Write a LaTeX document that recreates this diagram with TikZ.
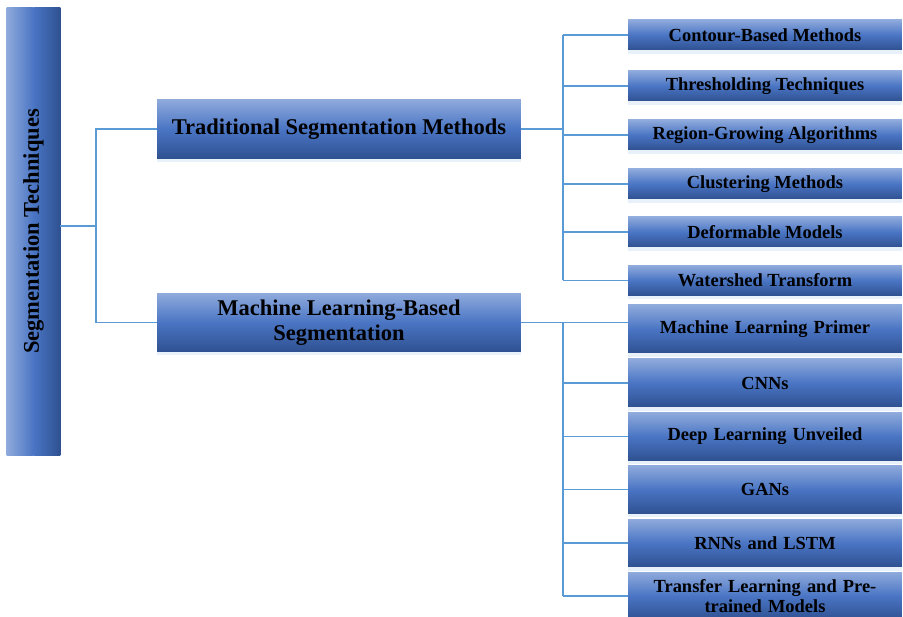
\documentclass[tikz,border=0pt]{standalone}
\usepackage{fontspec}
\setmainfont{Liberation Serif}
\usetikzlibrary{positioning, shadows}

\definecolor{boxlight}{HTML}{8FAADC}
\definecolor{boxmid}{HTML}{4A75C4}
\definecolor{boxdark}{HTML}{2F5191}
\definecolor{linkblue}{HTML}{5B9BD5}

\tikzset{
    shadowed/.style={draw=none, inner sep=0pt, align=center,
        drop shadow={shadow xshift=0pt, shadow yshift=-2pt, fill=linkblue!40, opacity=0.35}},
    box/.style={shadowed, top color=boxlight, bottom color=boxdark, middle color=boxmid},
    rootbox/.style={draw=none, inner sep=0pt, fill=boxmid,
        minimum width=1.06cm, minimum height=8.94cm},
    roottitle/.style={rotate=90, inner sep=0pt, font=\bfseries\fontsize{12.8}{14}\selectfont},
    midbox/.style={box, minimum width=7.28cm, minimum height=1.17cm,
        font=\bfseries\fontsize{12.8}{14.5}\selectfont},
    leafbox/.style={box, minimum width=5.48cm, minimum height=0.6cm,
        font=\bfseries\fontsize{10.5}{12}\selectfont},
    tallbox/.style={leafbox, minimum height=0.96cm, text width=5.2cm,
        font=\bfseries\fontsize{10.5}{11.2}\selectfont},
    link/.style={draw=linkblue, line width=0.8pt}
}

\begin{document}
\begin{tikzpicture}[x=0.02cm, y=0.02cm]
            \useasboundingbox (0,0) rectangle (903,-617);
            \clip (0,0) rectangle (903,-617);

            \node[rootbox] (root) at (33.5, -231.5) {};
            \shade[left color=boxlight, right color=boxmid] (root.south west) rectangle (root.north);
            \shade[left color=boxmid, right color=boxdark] (root.south) rectangle (root.north east);
            \node[roottitle] (roottext) at (root.center) {Segmentation Techniques};

            \node[midbox] (trad) at (339, -129) {Traditional Segmentation Methods};
            \node[midbox] (ml) at (339, -322.5) {Machine Learning-Based\\Segmentation};

            \node[leafbox] (contour) at (765, -35) {Contour-Based Methods};
            \node[leafbox] (thresh) at (765, -86) {Thresholding Techniques};
            \node[leafbox] (region) at (765, -135) {Region-Growing Algorithms};
            \node[leafbox] (cluster) at (765, -184) {Clustering Methods};
            \node[leafbox] (deform) at (765, -232) {Deformable Models};
            \node[leafbox] (water) at (765, -280.5) {Watershed Transform};

            \node[tallbox] (primer) at (765, -329) {Machine Learning Primer};
            \node[tallbox] (cnn) at (765, -383) {CNNs};
            \node[tallbox] (deep) at (765, -436.5) {Deep Learning Unveiled};
            \node[tallbox] (gan) at (765, -489.5) {GANs};
            \node[tallbox] (rnn) at (765, -543) {RNNs and LSTM};
            \node[tallbox] (transfer) at (765, -596) {Transfer Learning and Pre-\\trained Models};

            \coordinate (split) at (96, -226);
            \coordinate (tradbus) at (563, 0);
            \coordinate (mlbus) at (563, 0);

            \draw[link] (root.east |- split) -- (split);
            \draw[link] (trad.west) -| (split) |- (ml.west);

            \draw[link] (trad.east) -- (tradbus |- trad.east);
            \draw[link] (tradbus |- contour.west) -- (tradbus |- water.west);
            \draw[link] (tradbus |- contour.west) -- (contour.west);
            \draw[link] (tradbus |- thresh.west) -- (thresh.west);
            \draw[link] (tradbus |- region.west) -- (region.west);
            \draw[link] (tradbus |- cluster.west) -- (cluster.west);
            \draw[link] (tradbus |- deform.west) -- (deform.west);
            \draw[link] (tradbus |- water.west) -- (water.west);

            \draw[link] (ml.east) -- (primer.west |- ml.east);
            \draw[link] (mlbus |- ml.east) -- (mlbus |- transfer.west);
            \draw[link] (mlbus |- cnn.west) -- (cnn.west);
            \draw[link] (mlbus |- deep.west) -- (deep.west);
            \draw[link] (mlbus |- gan.west) -- (gan.west);
            \draw[link] (mlbus |- rnn.west) -- (rnn.west);
            \draw[link] (mlbus |- transfer.west) -- (transfer.west);
        \end{tikzpicture}
\end{document}
